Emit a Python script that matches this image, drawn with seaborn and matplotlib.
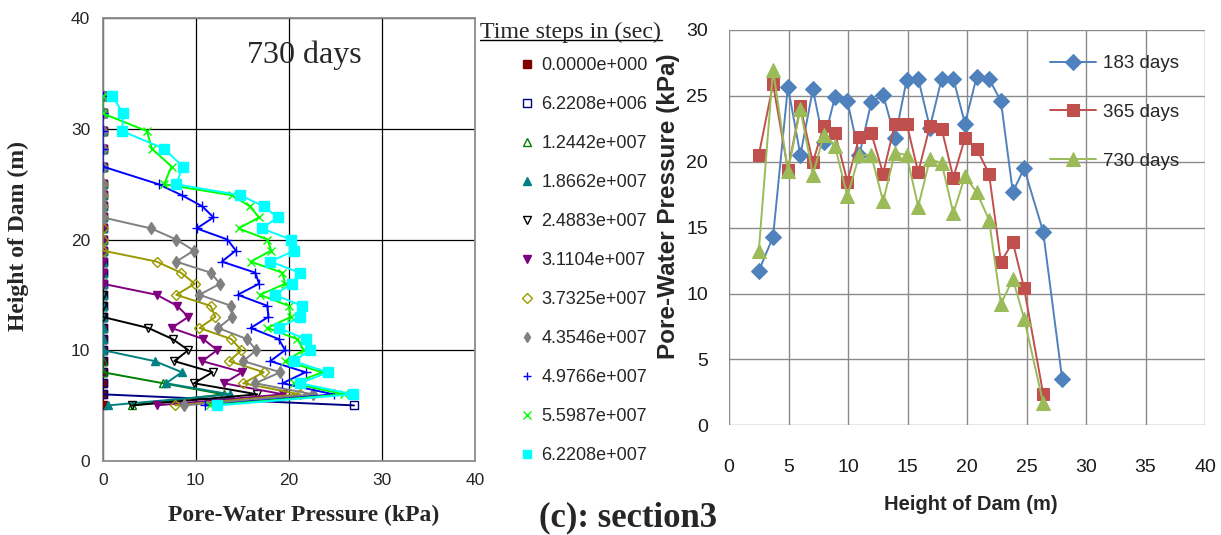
import seaborn as sns
import matplotlib.pyplot as plt
from matplotlib.lines import Line2D

# ---------------- left panel: pore-water pressure profiles (730 days) ----------------
node_height = [5, 6, 7, 8, 9, 10, 11, 12, 13, 14, 15, 16, 17, 18, 19, 20,
               21, 22, 23, 24, 25, 26.6, 28.2, 29.8, 31.4, 33]

time_steps = ["0.0000e+000", "6.2208e+006", "1.2442e+007", "1.8662e+007",
              "2.4883e+007", "3.1104e+007", "3.7325e+007", "4.3546e+007",
              "4.9766e+007", "5.5987e+007", "6.2208e+007"]

# pressure (kPa) at each node, bottom -> top
pwp_t00 = [0, 0, 0, 0, 0, 0, 0, 0, 0, 0, 0, 0, 0, 0, 0, 0, 0, 0, 0, 0, 0, 0, 0, 0, 0, 0]
pwp_t01 = [27.0, 0, 0, 0, 0, 0, 0, 0, 0, 0, 0, 0, 0, 0, 0, 0, 0, 0, 0, 0, 0, 0, 0, 0, 0, 0]
pwp_t02 = [3.1, 13.0, 6.5, 0, 0, 0, 0, 0, 0, 0, 0, 0, 0, 0, 0, 0, 0, 0, 0, 0, 0, 0, 0, 0, 0, 0]
pwp_t03 = [0.6, 13.7, 6.8, 8.5, 5.6, 0, 0, 0, 0, 0, 0, 0, 0, 0, 0, 0, 0, 0, 0, 0, 0, 0, 0, 0, 0, 0]
pwp_t04 = [3.2, 16.6, 9.8, 11.8, 7.7, 9.2, 7.5, 4.9, 0, 0, 0, 0, 0, 0, 0, 0, 0, 0, 0, 0, 0, 0, 0, 0, 0, 0]
pwp_t05 = [5.8, 19.4, 13.0, 15.0, 10.7, 12.3, 10.8, 7.4, 9.2, 8.0, 5.8, 0, 0, 0, 0, 0,
           0, 0, 0, 0, 0, 0, 0, 0, 0, 0]
pwp_t06 = [7.8, 21.2, 15.1, 17.3, 13.6, 14.9, 13.8, 10.4, 12.1, 11.6, 7.9, 9.9, 8.4, 5.8, 0, 0,
           0, 0, 0, 0, 0, 0, 0, 0, 0, 0]
pwp_t07 = [8.7, 22.6, 16.4, 19.1, 15.1, 16.5, 15.5, 12.4, 13.9, 13.8, 10.4, 12.6, 11.6, 7.9, 9.8, 7.9,
           5.2, 0, 0, 0, 0, 0, 0, 0, 0, 0]
pwp_t08 = [11.0, 24.8, 19.3, 21.8, 18.0, 19.6, 18.9, 15.9, 17.8, 17.7, 14.5, 16.8, 16.4, 12.8, 14.3, 13.4,
           10.1, 11.9, 10.7, 8.5, 6.0, 0, 0, 0, 0, 0]
pwp_t09 = [11.5, 25.9, 20.5, 23.6, 19.6, 21.6, 20.9, 17.7, 20.2, 20.0, 16.9, 19.6, 19.3, 15.9, 18.1, 17.7,
           14.6, 16.8, 15.8, 13.9, 6.6, 7.4, 5.3, 4.75, 0, 0]
pwp_t10 = [12.3, 26.9, 21.2, 24.2, 20.5, 22.3, 21.8, 18.9, 21.2, 21.4, 18.5, 20.3, 21.2, 18.0, 20.6, 20.2,
           17.1, 18.8, 17.3, 14.8, 7.9, 8.6, 6.6, 2.1, 2.2, 1.0]

profiles = [pwp_t00, pwp_t01, pwp_t02, pwp_t03, pwp_t04, pwp_t05,
            pwp_t06, pwp_t07, pwp_t08, pwp_t09, pwp_t10]

# (colour, marker, filled, size)
profile_style = [
    ("#800000", "s", True, 5.5),
    ("#000080", "s", False, 5.5),
    ("#008000", "^", False, 5.5),
    ("#008080", "^", True, 6),
    ("#000000", "v", False, 6),
    ("#800080", "v", True, 6),
    ("#999900", "D", False, 5),
    ("#808080", "d", True, 6.5),
    ("#0000ff", "+", True, 7),
    ("#00ff00", "x", True, 6),
    ("#00ffff", "s", True, 6.5),
]

# ---------------- right panel: pressure along the dam ----------------
dam_x_183 = [2.5, 3.7, 4.95, 6.0, 7.05, 7.95, 8.9, 9.95, 10.95, 11.95, 12.95, 13.95,
             14.93, 15.9, 16.88, 17.87, 18.85, 19.83, 20.8, 21.85, 22.85, 23.85, 24.8, 26.4, 28.0]
dam_x = [2.5, 3.7, 4.95, 6.0, 7.05, 7.95, 8.9, 9.95, 10.95, 11.95, 12.95, 13.95,
         14.93, 15.9, 16.88, 17.87, 18.85, 19.83, 20.8, 21.85, 22.85, 23.85, 24.8, 26.4]
pwp_183 = [11.7, 14.3, 25.7, 20.5, 25.5, 21.5, 24.9, 24.6, 20.5, 24.5, 25.1, 21.8,
           26.2, 26.3, 22.6, 26.3, 26.3, 22.9, 26.4, 26.3, 24.6, 17.7, 19.5, 14.7, 3.5]
pwp_365 = [20.5, 25.9, 19.4, 24.2, 19.95, 22.7, 22.2, 18.5, 21.9, 22.2, 19.1, 22.9,
           22.9, 19.2, 22.7, 22.5, 18.8, 21.8, 21.0, 19.1, 12.4, 13.9, 10.4, 2.4]
pwp_730 = [13.2, 27.0, 19.3, 24.0, 19.0, 22.0, 21.2, 17.4, 20.5, 20.5, 17.0, 20.7,
           20.5, 16.6, 20.2, 19.9, 16.1, 18.9, 17.7, 15.6, 9.2, 11.1, 8.1, 1.7]

sns.set_style("white")
plt.rcParams['font.family'] = ['Liberation Sans', 'DejaVu Sans']

fig = plt.figure(figsize=(12.21, 5.35), dpi=100)
W, H = 1221.0, 535.0

# ---- left axes ----
ax1 = fig.add_axes([102.7 / W, 1 - 460.7 / H, 372.3 / W, 442.4 / H])
for prof, (col, mk, filled, ms), lab in zip(profiles, profile_style, time_steps):
    face = col if filled else "none"
    sns.lineplot(x=prof, y=node_height, ax=ax1, sort=False, estimator=None,
                 orient="y", color=col, lw=1.4, marker=mk, ms=ms,
                 markerfacecolor=face, markeredgecolor=col, mew=1.0, zorder=3)

ax1.set_xlim(0, 40)
ax1.set_ylim(0, 40)
ax1.set_xticks([0, 10, 20, 30, 40])
ax1.set_yticks([0, 10, 20, 30, 40])
ax1.grid(True, color="black", lw=0.9)
ax1.tick_params(length=0, pad=9, labelsize=12.5)
for sp in ax1.spines.values():
    sp.set_color("#8c8c8c")
    sp.set_linewidth(1.3)
    sp.set_zorder(2.6)
ax1.set_xlabel("")
ax1.set_ylabel("")

ax1.text(21.7, 36.7, "730 days", ha="center", va="center", fontsize=23,
         family="Liberation Serif")

fig.text(304 / W, 1 - 515 / H, "Pore-Water Pressure (kPa)", ha="center", va="center",
         fontsize=17, fontweight="bold", family="Liberation Serif")
fig.text(18 / W, 1 - 236 / H, "Height of Dam (m)", ha="center", va="center",
         rotation=90, fontsize=17, fontweight="bold", family="Liberation Serif")

# legend for the profiles
handles = []
for col, mk, filled, ms in profile_style:
    handles.append(Line2D([], [], ls="none", marker=mk, color=col,
                          markerfacecolor=col if filled else "none",
                          markeredgecolor=col, ms=5.5, mew=1.0))
fig.legend(handles, time_steps, loc="upper left",
           bbox_to_anchor=(518 / W, 1 - 57 / H), frameon=False,
           fontsize=13, handlelength=1.0, handletextpad=0.3,
           labelspacing=1.22, borderpad=0, borderaxespad=0)

fig.text(480 / W, 1 - 37.7 / H, "Time steps in (sec)", ha="left", va="baseline",
         fontsize=17.3, family="Liberation Serif")
fig.add_artist(Line2D([480 / W, 662 / W], [1 - 40 / H, 1 - 40 / H],
                      color="black", lw=1.0))

fig.text(628 / W, 1 - 526 / H, "(c): section3", ha="center", va="baseline",
         fontsize=25, fontweight="bold", family="Liberation Serif")

# ---- right axes ----
ax2 = fig.add_axes([729 / W, 1 - 425.3 / H, 476 / W, 395.3 / H])
sns.lineplot(x=dam_x_183, y=pwp_183, ax=ax2, sort=False, estimator=None,
             color="#4F81BD", lw=1.4, marker="D", ms=8, markeredgecolor="#4F81BD",
             label="183 days", zorder=3)
sns.lineplot(x=dam_x, y=pwp_365, ax=ax2, sort=False, estimator=None,
             color="#C0504D", lw=1.4, marker="s", ms=8.5, markeredgecolor="#C0504D",
             label="365 days", zorder=3)
sns.lineplot(x=dam_x, y=pwp_730, ax=ax2, sort=False, estimator=None,
             color="#9BBB59", lw=1.4, marker="^", ms=9.5, markeredgecolor="#9BBB59",
             label="730 days", zorder=3)

ax2.set_xlim(0, 40)
ax2.set_ylim(0, 30)
ax2.set_xticks(range(0, 41, 5))
ax2.set_yticks(range(0, 31, 5))
ax2.grid(True, color="#8a8a8a", lw=1.0)
for sp in ax2.spines.values():
    sp.set_visible(False)
ax2.tick_params(axis="both", length=7, width=1.0, color="#8a8a8a",
                labelsize=14, labelcolor="#1a1a1a")
ax2.tick_params(axis="x", pad=17)
ax2.tick_params(axis="y", pad=8)
ax2.set_xlabel("")
ax2.set_ylabel("")
ax2.legend(loc="upper left", bbox_to_anchor=(1050 / W, 1 - 55 / H),
           bbox_transform=fig.transFigure, frameon=False, fontsize=13.5,
           handlelength=2.45, handletextpad=0.4, labelspacing=1.69,
           borderpad=0, borderaxespad=0)

fig.text(971 / W, 1 - 505 / H, "Height of Dam (m)", ha="center", va="center",
         fontsize=14.5, fontweight="bold")
fig.text(668 / W, 1 - 206 / H, "Pore-Water Pressure (kPa)", ha="center", va="center",
         rotation=90, fontsize=17.5, fontweight="bold")

fig.savefig("out.png", dpi=100)
